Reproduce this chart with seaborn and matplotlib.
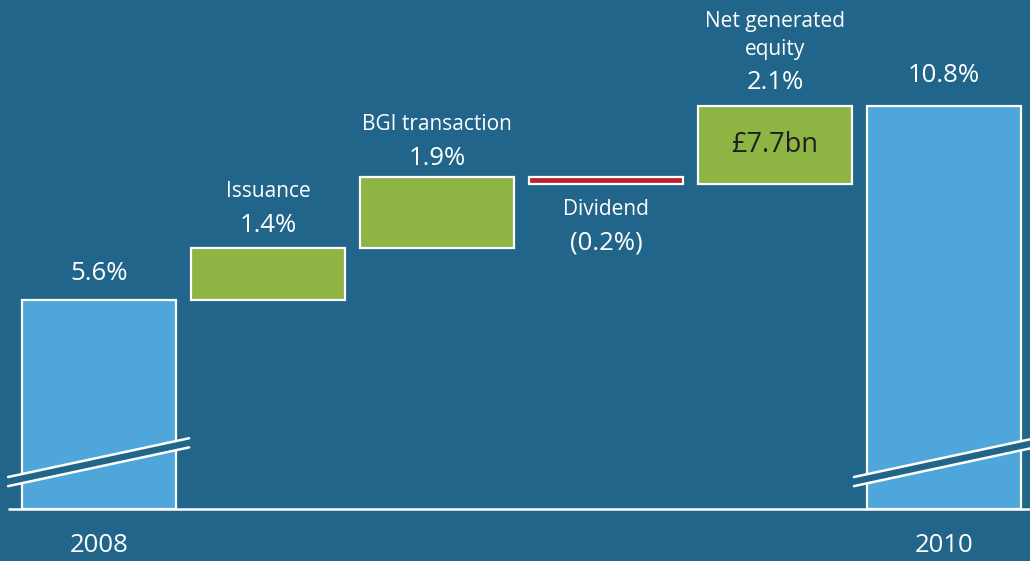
import matplotlib
matplotlib.use("Agg")
import matplotlib.pyplot as plt
import seaborn as sns
import numpy as np

# ---- data ----
categories = ["2008", "Issuance", "BGI transaction", "Dividend", "Net generated equity", "2010"]
changes = [5.6, 1.4, 1.9, -0.2, 2.1, 10.8]
kinds = ["total", "delta", "delta", "delta", "delta", "total"]
value_labels = ["5.6%", "1.4%", "1.9%", "(0.2%)", "2.1%", "10.8%"]
name_labels = [[], ["Issuance"], ["BGI transaction"], ["Dividend"], ["Net generated", "equity"], []]
axis_labels = ["2008", "", "", "", "", "2010"]
inner_label = {4: "£7.7bn"}

BG = "#21668A"
BLUE = "#4FA6DA"
GREEN = "#8EB444"
RED = "#B8232B"
colors = {"2008": BLUE, "Issuance": GREEN, "BGI transaction": GREEN,
          "Dividend": RED, "Net generated equity": GREEN, "2010": BLUE}

# waterfall geometry from data
bottoms, heights = [], []
running = 0.0
for c, k in zip(changes, kinds):
    if k == "total":
        bottoms.append(0.0); heights.append(c); running = c
    else:
        bottoms.append(running if c >= 0 else running + c)
        heights.append(abs(c)); running += c
tops = [b + h for b, h in zip(bottoms, heights)]

sns.set_theme(style="white")
plt.rcParams["font.family"] = ["Open Sans", "DejaVu Sans"]

fig = plt.figure(figsize=(10.30, 5.61), dpi=100, facecolor=BG)
ax = fig.add_axes([0, 0, 1, 1])
ax.set_facecolor(BG)

sns.barplot(x=categories, y=heights, hue=categories, palette=colors,
            legend=False, width=0.91, edgecolor="white", linewidth=1.6,
            saturation=1, ax=ax, order=categories, hue_order=categories, dodge=False)
for p, b in zip(ax.patches, bottoms):
    p.set_y(b)

ax.set_xlim(-0.586, 5.509)
ax.set_ylim(-1.394, 13.646)
for s in ax.spines.values():
    s.set_visible(False)
ax.set_xticks([]); ax.set_yticks([])
ax.set_xlabel(""); ax.set_ylabel("")

# baseline
ax.plot([-0.538, 5.509], [0, 0], color="white", lw=1.8, solid_capstyle="butt", zorder=5)

# break marks on total bars
slope = 0.97  # data units per x unit
for i, k in enumerate(kinds):
    if k != "total":
        continue
    if i == 0:
        x0, x1 = i - 0.538, i + 0.533
    else:
        x0, x1 = i - 0.533, i + 0.566
    y0u = 0.858
    y1u = y0u + slope * (x1 - x0)
    gap = 0.245
    xs = [x0, x1, x1, x0]
    ys = [y0u, y1u, y1u - gap, y0u - gap]
    ax.fill(xs, ys, color=BG, zorder=6, lw=0)
    ax.plot([x0, x1], [y0u, y1u], color="white", lw=1.8, zorder=7)
    ax.plot([x0, x1], [y0u - gap, y1u - gap], color="white", lw=1.8, zorder=7)

fs_num = 18.5
fs_name = 15
nkw = dict(color="white", fontsize=fs_num, ha="center", va="center")
tkw = dict(color="white", fontsize=fs_name, ha="center", va="center")

# value + name labels
value_off = [27, 22, 19, -26, 24, 31]   # pixels above top (negative: below bottom)
for i in range(len(categories)):
    if changes[i] >= 0 or kinds[i] == "total":
        anchor = tops[i]
        off = value_off[i]
        ax.annotate(value_labels[i], (i, anchor), xytext=(0, off),
                    textcoords="offset pixels", **nkw)
        names = name_labels[i]
        step = 34 if len(names) == 1 else 31
        for j, nm in enumerate(reversed(names)):
            ax.annotate(nm, (i, anchor), xytext=(0, off + step * (j + 1) + (2 if len(names) > 1 and j == 0 else 0) - (1 if j > 0 else 0)),
                        textcoords="offset pixels", **tkw)
    else:
        anchor = bottoms[i]
        names = name_labels[i]
        for j, nm in enumerate(names):
            ax.annotate(nm, (i, anchor), xytext=(0, -25 - 34 * j),
                        textcoords="offset pixels", **tkw)
        ax.annotate(value_labels[i], (i, anchor), xytext=(0, -25 - 34 * len(names)),
                    textcoords="offset pixels", **nkw)

for i, t in inner_label.items():
    ax.text(i, bottoms[i] + heights[i] / 2, t, color="#1E1E1E", fontsize=19.5,
            ha="center", va="center")

for i, t in enumerate(axis_labels):
    if t:
        ax.annotate(t, (i, 0), xytext=(0, -36), textcoords="offset pixels", **nkw)

fig.savefig("out.png", dpi=100, facecolor=BG)
